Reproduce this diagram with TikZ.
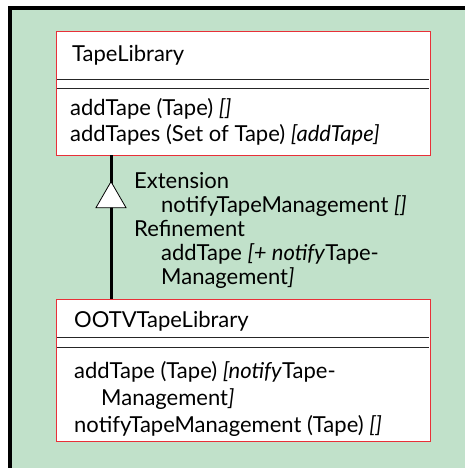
\documentclass[tikz,border=0pt]{standalone}
\usepackage{fontspec}
\setmainfont{Lato}
\usetikzlibrary{shapes.geometric}
\definecolor{bggreen}{RGB}{193,225,202}
\definecolor{boxred}{RGB}{232,48,56}
\begin{document}
\begin{tikzpicture}[x=1pt,y=-1pt,
  txt/.style={anchor=base west,inner sep=0pt,font=\fontsize{22}{26}\selectfont},
  classbox/.style={draw=boxred,line width=1.4pt,fill=white,anchor=north west,inner sep=0pt},
  sep/.style={line width=0.9pt,black!85}]
\useasboundingbox (0,0) rectangle (465,468);
\fill[bggreen] (8,6) rectangle (465,468);
\draw[line width=4pt] (10,468) -- (10,8) -- (465,8);
% top class
\node[classbox,minimum width=374pt,minimum height=124pt] (top) at (56,31) {};
\node[txt] (topname) at (72,62) {TapeLibrary};
\draw[sep] (57,79) -- (429,79);
\draw[sep] (57,88) -- (429,88);
\node[txt] (topm1) at (70,115) {addTape (Tape) \textit{[]}};
\node[txt] (topm2) at (70,141) {addTapes (Set of Tape) \textit{[addTape]}};
% bottom class
\node[classbox,minimum width=374pt,minimum height=142pt] (bot) at (56,299) {};
\node[txt] (botname) at (74,327) {OOTVTapeLibrary};
\draw[sep] (57,337) -- (429,337);
\draw[sep] (57,347) -- (429,347);
\node[txt] (botm1) at (74,378) {addTape (Tape) \textit{[notify}Tape-};
\node[txt] (botm2) at (101,405) {Management\textit{]}};
\node[txt] (botm3) at (74,432) {notifyTapeManagement (Tape) \textit{[]}};
% generalization
\coordinate (ctop) at (111,155);
\coordinate (cbot) at (111,299);
\draw[line width=3pt] (cbot) -- (ctop);
\node[isosceles triangle,isosceles triangle apex angle=60,shape border rotate=90,draw,fill=white,line width=0.8pt,minimum height=26pt,inner sep=0pt] (tri) at (111,199) {};
\node[txt] (l1) at (134,188) {Extension};
\node[txt] (l2) at (161,212) {notifyTapeManagement \textit{[]}};
\node[txt] (l3) at (134,236) {Refinement};
\node[txt] (l4) at (161,260) {addTape \textit{[+ notify}Tape-};
\node[txt] (l5) at (161,284) {Management\textit{]}};
\end{tikzpicture}
\end{document}
